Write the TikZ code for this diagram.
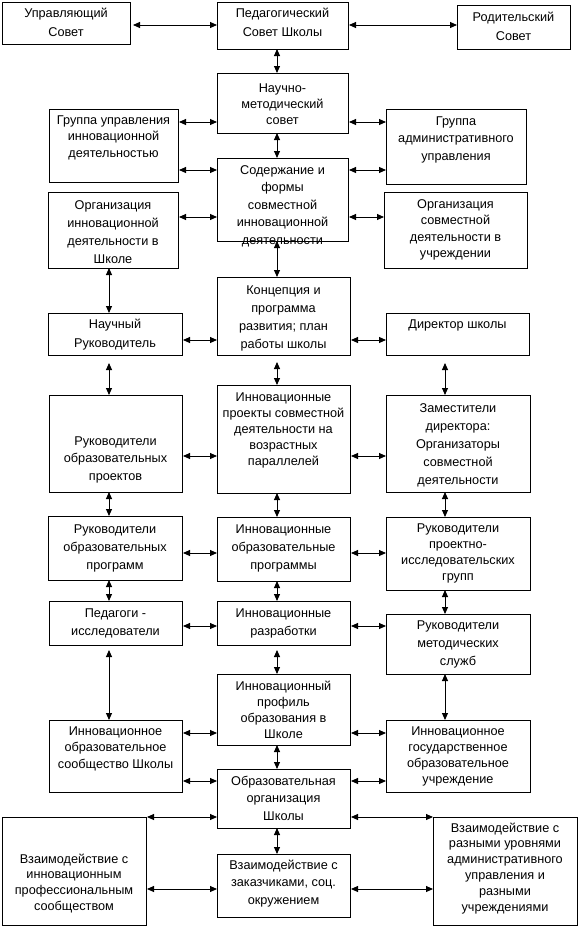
\documentclass[tikz,border=0pt]{standalone}
\usepackage{fontspec}
\setmainfont{Liberation Sans}
\usetikzlibrary{arrows.meta}
\tikzset{
  boxst/.style={draw, line width=1pt, inner sep=0pt, outer sep=0pt},
  txt/.style={align=center, inner sep=0pt, outer sep=0pt, anchor=north},
  arr/.style={{Triangle[length=7pt,width=6pt]}-{Triangle[length=7pt,width=6pt]}, line width=0.9pt},
}
\newcommand\mybox[8]{%
  \node[boxst, minimum width={(#4)-(#2)}, minimum height={(#5)-(#3)}] (#1) at ({((#2)+(#4))/2},{((#3)+(#5))/2}) {};
  \node[txt, font=\fontsize{12.7}{#7}\selectfont] (#1t) at ({((#2)+(#4))/2},{(#6)-6}) {\rule{0pt}{10pt}#8};
}
\begin{document}
\begin{tikzpicture}[x=1pt, y=-1pt]
\useasboundingbox (0,0) rectangle (579,926);
\fill[white] (0,0) rectangle (579,926);

\mybox{upr}{2}{2}{130}{44}{13}{19}{Управляющий\\Совет}
\mybox{ped}{217}{2}{348}{49}{13}{19}{Педагогический\\Совет Школы}
\mybox{rod}{457}{5}{570}{49}{17}{19}{Родительский\\Совет}
\mybox{nms}{217}{73}{348}{133}{88}{16}{Научно-\\методический\\совет}
\mybox{gui}{49}{109}{178}{182}{120}{16.5}{Группа управления\\инновационной\\деятельностью}
\mybox{gau}{386}{109}{526}{184}{121}{17.5}{Группа\\административного\\управления}
\mybox{sod}{217}{158}{348}{241}{170}{17.5}{Содержание и\\формы\\совместной\\инновационной\\деятельности}
\mybox{oid}{48}{192}{178}{268}{205}{18}{Организация\\инновационной\\деятельности в\\Школе}
\mybox{osd}{384}{192}{527}{268}{204}{16.5}{Организация\\совместной\\деятельности в\\учреждении}
\mybox{konc}{217}{277}{350}{355}{290}{18}{Концепция и\\программа\\развития; план\\работы школы}
\mybox{nauch}{48}{313}{182}{355}{324}{19}{Научный\\Руководитель}
\mybox{dir}{386}{313}{529}{355}{324}{16}{Директор школы}
\mybox{rop}{49}{395}{182}{492}{441}{17.5}{Руководители\\образовательных\\проектов}
\mybox{ipr}{217}{385}{350}{493}{397}{16}{Инновационные\\проекты совместной\\деятельности на\\возрастных\\параллелей}
\mybox{zam}{386}{395}{530}{492}{408}{18}{Заместители\\директора:\\Организаторы\\совместной\\деятельности}
\mybox{ropr}{48}{516}{182}{580}{529}{18}{Руководители\\образовательных\\программ}
\mybox{iop}{217}{517}{350}{581}{529}{18}{Инновационные\\образовательные\\программы}
\mybox{rpig}{386}{517}{530}{590}{528}{16}{Руководители\\проектно-\\исследовательских\\групп}
\mybox{pis}{49}{601}{182}{645}{613}{18}{Педагоги -\\исследователи}
\mybox{razr}{217}{601}{350}{645}{613}{18}{Инновационные\\разработки}
\mybox{rms}{386}{614}{530}{674}{625}{18}{Руководители\\методических\\служб}
\mybox{prof}{217}{674}{350}{745}{686}{16.3}{Инновационный\\профиль\\образования в\\Школе}
\mybox{ios}{49}{720}{182}{792}{731}{16.5}{Инновационное\\образовательное\\сообщество Школы}
\mybox{igou}{386}{720}{530}{792}{731}{16.3}{Инновационное\\государственное\\образовательное\\учреждение}
\mybox{oos}{217}{769}{350}{828}{781}{17.5}{Образовательная\\организация\\Школы}
\mybox{vip}{2}{817}{146}{925}{859}{15.8}{Взаимодействие с\\инновационным\\профессиональным\\сообществом}
\mybox{vz}{217}{854}{350}{917}{865}{17.5}{Взаимодействие с\\заказчиками, соц.\\окружением}
\mybox{vru}{433}{817}{577}{925}{828}{15.8}{Взаимодействие с\\разными уровнями\\административного\\управления и\\разными\\учреждениями}

% row and column guides
\coordinate (h1) at (0,25);
\coordinate (h2) at (0,122);
\coordinate (h3) at (0,170);
\coordinate (h4) at (0,217);
\coordinate (h5) at (0,340);
\coordinate (h6) at (0,456);
\coordinate (h7) at (0,553);
\coordinate (h8) at (0,626);
\coordinate (h9) at (0,733);
\coordinate (h10) at (0,781);
\coordinate (h11) at (0,817);
\coordinate (h12) at (0,889);
\coordinate (cL) at (109,0);
\coordinate (cC) at (277,0);
\coordinate (cR) at (445,0);

% horizontal connectors
\draw[arr, shorten <=3pt] (upr.east |- h1) -- (ped.west |- h1);
\draw[arr, shorten <=1pt] (ped.east |- h1) -- (rod.west |- h1);
\draw[arr, shorten <=1pt] (gui.east |- h2) -- (nms.west |- h2);
\draw[arr, shorten <=1pt] (nms.east |- h2) -- (gau.west |- h2);
\draw[arr, shorten <=1pt] (gui.east |- h3) -- (sod.west |- h3);
\draw[arr, shorten <=1pt] (sod.east |- h3) -- (gau.west |- h3);
\draw[arr, shorten <=1pt] (oid.east |- h4) -- (sod.west |- h4);
\draw[arr, shorten <=1pt] (sod.east |- h4) -- (osd.west |- h4);
\draw[arr, shorten <=1pt] (nauch.east |- h5) -- (konc.west |- h5);
\draw[arr, shorten <=1pt] (konc.east |- h5) -- (dir.west |- h5);
\draw[arr, shorten <=1pt] (rop.east |- h6) -- (ipr.west |- h6);
\draw[arr, shorten <=1pt] (ipr.east |- h6) -- (zam.west |- h6);
\draw[arr, shorten <=1pt] (ropr.east |- h7) -- (iop.west |- h7);
\draw[arr, shorten <=1pt] (iop.east |- h7) -- (rpig.west |- h7);
\draw[arr, shorten <=1pt] (pis.east |- h8) -- (razr.west |- h8);
\draw[arr, shorten <=1pt] (razr.east |- h8) -- (rms.west |- h8);
\draw[arr, shorten <=1pt] (ios.east |- h9) -- (prof.west |- h9);
\draw[arr, shorten <=1pt] (prof.east |- h9) -- (igou.west |- h9);
\draw[arr, shorten <=1pt] (ios.east |- h10) -- (oos.west |- h10);
\draw[arr, shorten <=1pt] (oos.east |- h10) -- (igou.west |- h10);
\draw[arr, shorten <=1pt] (vip.east |- h11) -- (oos.west |- h11);
\draw[arr, shorten <=1pt] (oos.east |- h11) -- (vru.west |- h11);
\draw[arr, shorten <=1pt] (vip.east |- h12) -- (vz.west |- h12);
\draw[arr, shorten <=1pt] (vz.east |- h12) -- (vru.west |- h12);

% vertical connectors, centre column
\draw[arr] (ped.south -| cC) -- (nms.north -| cC);
\draw[arr] (nms.south -| cC) -- (sod.north -| cC);
\draw[arr] (sod.south -| cC) -- (konc.north -| cC);
\draw[arr, shorten <=7pt] (konc.south -| cC) -- (ipr.north -| cC);
\draw[arr] (ipr.south -| cC) -- (iop.north -| cC);
\draw[arr] (iop.south -| cC) -- (razr.north -| cC);
\draw[arr, shorten <=5pt] (razr.south -| cC) -- (prof.north -| cC);
\draw[arr] (prof.south -| cC) -- (oos.north -| cC);
\draw[arr] (oos.south -| cC) -- (vz.north -| cC);
% left column
\draw[arr] (oid.south -| cL) -- (nauch.north -| cL);
\draw[arr, shorten <=8pt] (nauch.south -| cL) -- (rop.north -| cL);
\draw[arr] (rop.south -| cL) -- (ropr.north -| cL);
\draw[arr] (ropr.south -| cL) -- (pis.north -| cL);
\draw[arr, shorten <=5pt] (pis.south -| cL) -- (ios.north -| cL);
% right column
\draw[arr, shorten <=8pt] (dir.south -| cR) -- (zam.north -| cR);
\draw[arr] (zam.south -| cR) -- (rpig.north -| cR);
\draw[arr] (rpig.south -| cR) -- (rms.north -| cR);
\draw[arr] (rms.south -| cR) -- (igou.north -| cR);
\end{tikzpicture}
\end{document}
